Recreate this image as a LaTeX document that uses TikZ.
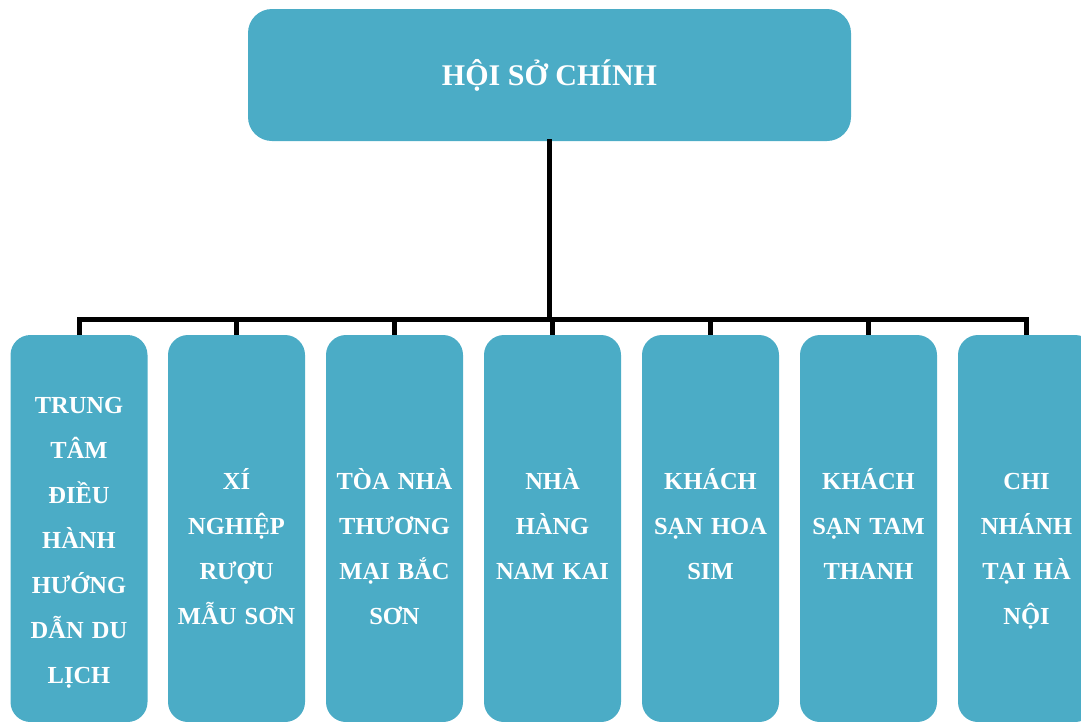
\documentclass[tikz,border=0pt]{standalone}
\usepackage{fontspec}
\setmainfont{Liberation Serif}
\definecolor{boxteal}{RGB}{75,172,198}
\begin{document}
\begin{tikzpicture}[x=1pt,y=-1pt,
  topbox/.style={fill=boxteal,draw=none,rounded corners=24pt,minimum width=603pt,minimum height=132pt,inner sep=0pt,
    text=white,font=\fontsize{30}{36}\selectfont\bfseries},
  childbox/.style={fill=boxteal,draw=none,rounded corners=20pt,minimum width=137pt,minimum height=387pt,inner sep=0pt},
  lbl/.style={text=white,font=\fontsize{24.5}{45}\selectfont\bfseries,text width=137pt,align=center,inner sep=0pt,anchor=base},
  conn/.style={line width=5pt,black,line cap=rect,line join=miter}]
\useasboundingbox (0,0) rectangle (1081,721);
\node[topbox] (top) at (549.5,75) {HỘI SỞ CHÍNH};
\foreach \i/\x in {1/79,2/236.5,3/394.5,4/552.5,5/710.5,6/868.5,7/1026.5}{
  \node[childbox] (b\i) at (\x,528.5) {};
}
\coordinate (bar) at (550,319.5);
\node[lbl] (t1) at (79,413) {TRUNG\\TÂM\\ĐIỀU\\HÀNH\\HƯỚNG\\DẪN DU\\LỊCH};
\node[lbl] (t2) at (236.5,489) {XÍ\\NGHIỆP\\RƯỢU\\MẪU SƠN};
\node[lbl] (t3) at (394.5,489) {TÒA NHÀ\\THƯƠNG\\MẠI BẮC\\SƠN};
\node[lbl] (t4) at (552.5,489) {NHÀ\\HÀNG\\NAM KAI};
\node[lbl] (t5) at (710.5,489) {KHÁCH\\SẠN HOA\\SIM};
\node[lbl] (t6) at (868.5,489) {KHÁCH\\SẠN TAM\\THANH};
\node[lbl] (t7) at (1026.5,489) {CHI\\NHÁNH\\TẠI HÀ\\NỘI};
\draw[conn] (top.south) -- (top.south |- bar);
\draw[conn,line cap=butt] (b1.north) -- (b1.north |- bar) -- (b7.north |- bar) -- (b7.north);
\foreach \i in {2,...,6}{
  \draw[conn,line cap=butt] (b\i.north) -- (b\i.north |- bar);
}
\end{tikzpicture}
\end{document}
